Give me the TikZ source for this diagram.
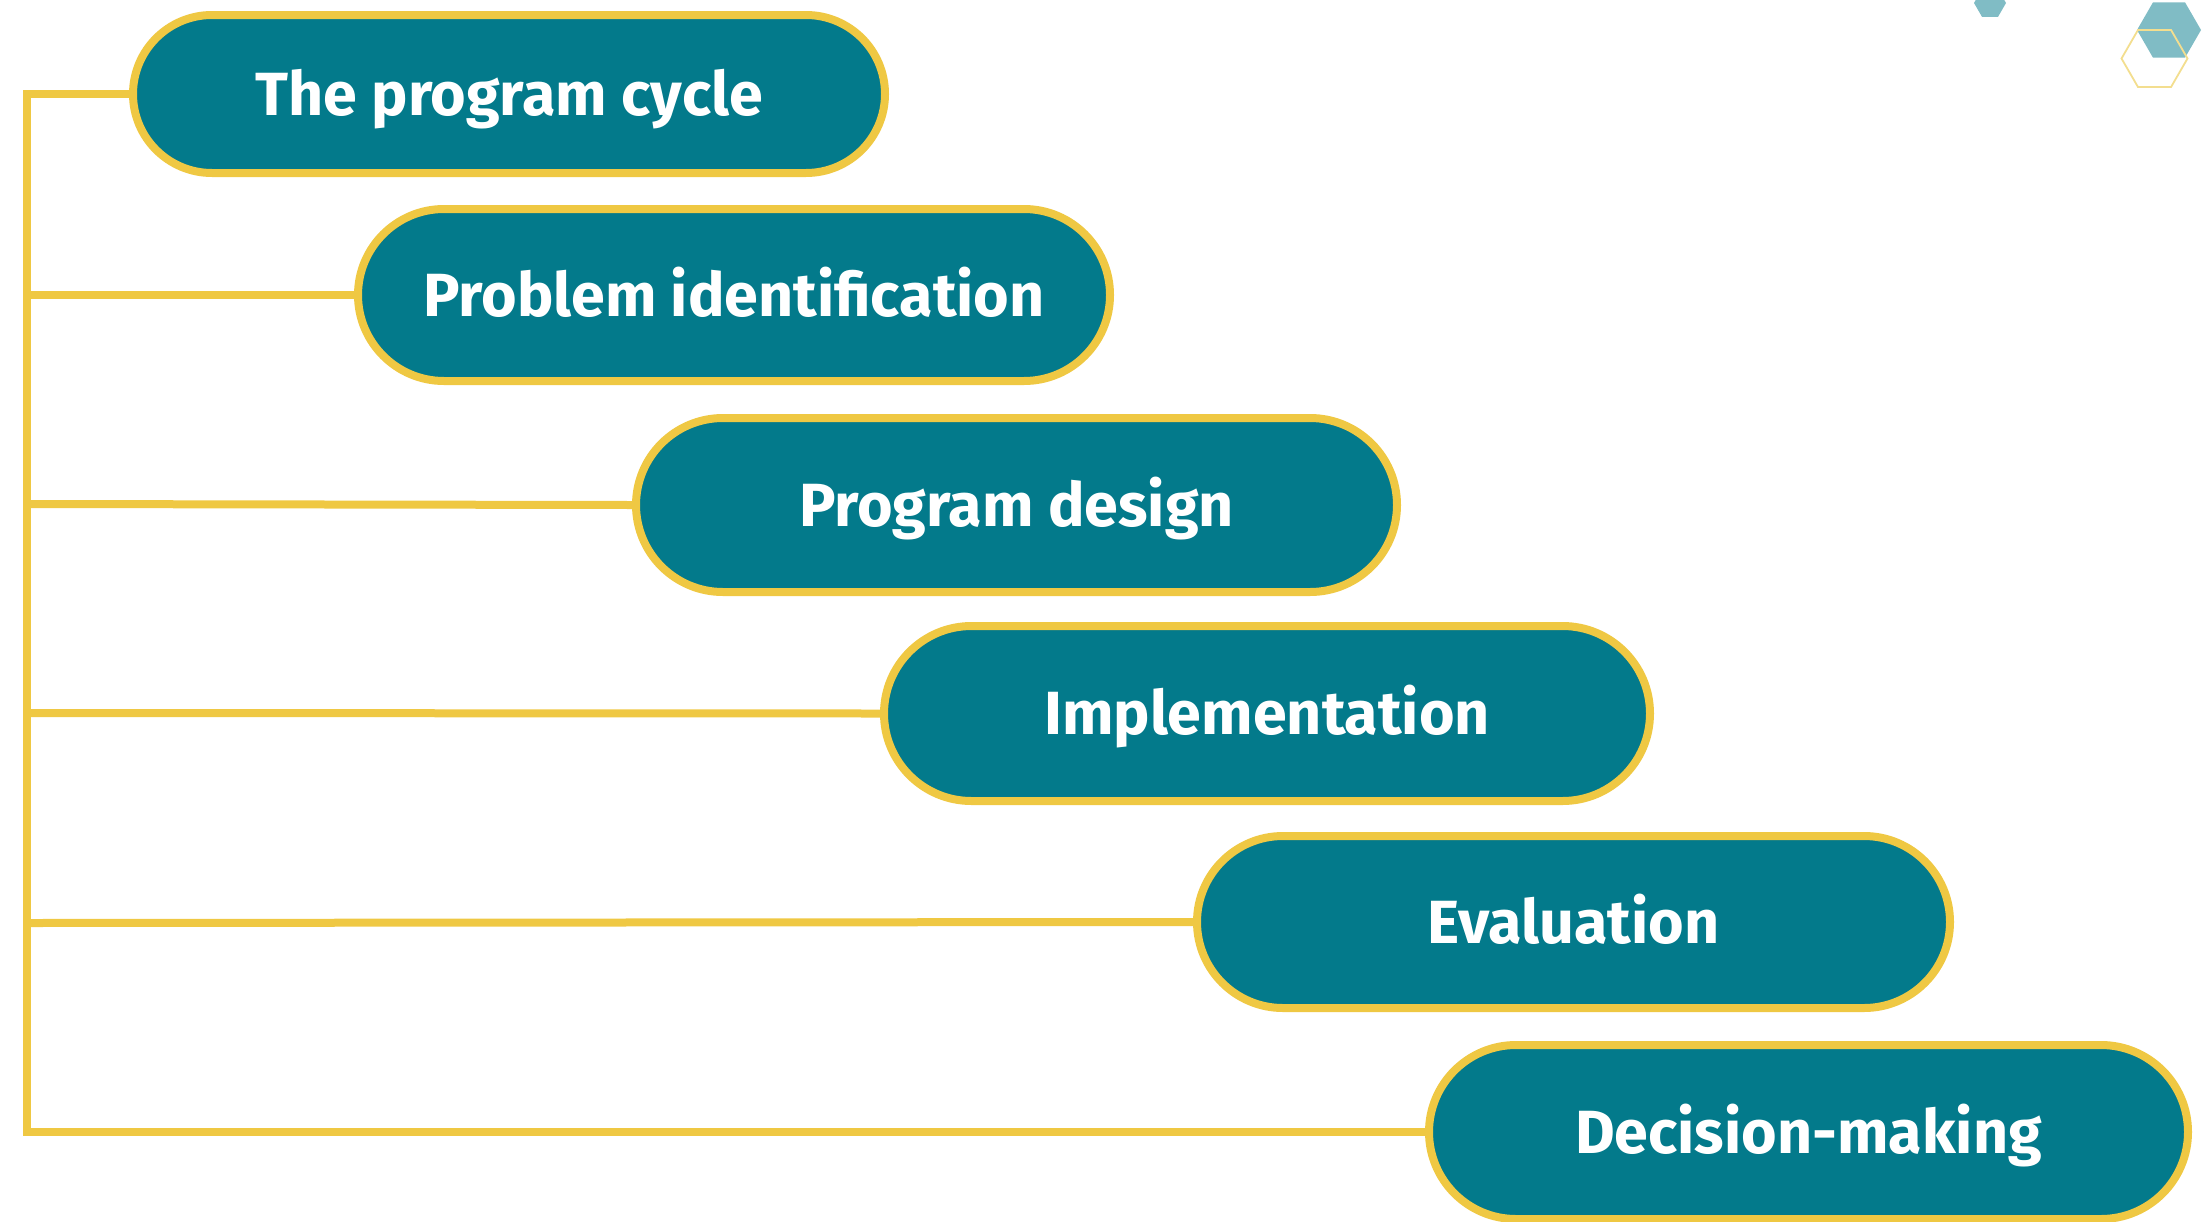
\documentclass[tikz,border=0pt]{standalone}
\usepackage{fontspec}
\setsansfont{Fira Sans}
\usetikzlibrary{shapes.misc,shapes.geometric}
\definecolor{teal1}{RGB}{3,122,139}
\definecolor{gold1}{RGB}{239,200,67}
\definecolor{hexteal}{RGB}{128,188,197}
\definecolor{hexgold}{RGB}{243,222,143}
\tikzset{
  stage/.style={rounded rectangle, fill=teal1, draw=gold1, line width=8pt,
    inner sep=0pt, text=white, text height=42pt, text depth=0pt,
    font=\sffamily\bfseries\fontsize{61}{61}\selectfont},
  conn/.style={draw=gold1, line width=8pt},
  hexf/.style={regular polygon, regular polygon sides=6, inner sep=0pt, fill=hexteal, draw=none},
  hexo/.style={regular polygon, regular polygon sides=6, inner sep=0pt, draw=hexgold, line width=1.8pt}
}
\begin{document}
\begin{tikzpicture}[x=1pt,y=-1pt]
\useasboundingbox (0,0) rectangle (2203,1221);
\clip (0,0) rectangle (2203,1221);
\node[hexf, minimum size=32pt] (h1) at (1990,3) {};
\node[hexf, minimum size=64pt] (h2) at (2169,30) {};
\node[hexo, minimum size=66pt] (h3) at (2154.5,58.5) {};
\node[stage, minimum width=752pt, minimum height=158pt] (b1) at (509,94) {The program cycle};
\node[stage, minimum width=752pt, minimum height=172pt] (b2) at (734,295) {Problem identification};
\node[stage, minimum width=761pt, minimum height=174pt] (b3) at (1016.5,505) {Program design};
\node[stage, minimum width=766pt, minimum height=175pt] (b4) at (1267,713.5) {Implementation};
\node[stage, minimum width=753pt, minimum height=172pt] (b5) at (1573.5,922) {Evaluation};
\node[stage, minimum width=759pt, minimum height=174pt] (b6) at (1808.5,1132) {Decision-making};
\coordinate (c1) at (27,94);
\coordinate (c2) at (27,295);
\coordinate (c3) at (27,504);
\coordinate (c4) at (27,713);
\coordinate (c5) at (27,923);
\coordinate (c6) at (27,1132);
\draw[conn] (b1.west) -- (c1) -- (c6) -- (b6.west);
\draw[conn] (c2) -- (b2.west);
\draw[conn] (c3) -- (b3.west);
\draw[conn] (c4) -- (b4.west);
\draw[conn] (c5) -- (b5.west);
\end{tikzpicture}
\end{document}
